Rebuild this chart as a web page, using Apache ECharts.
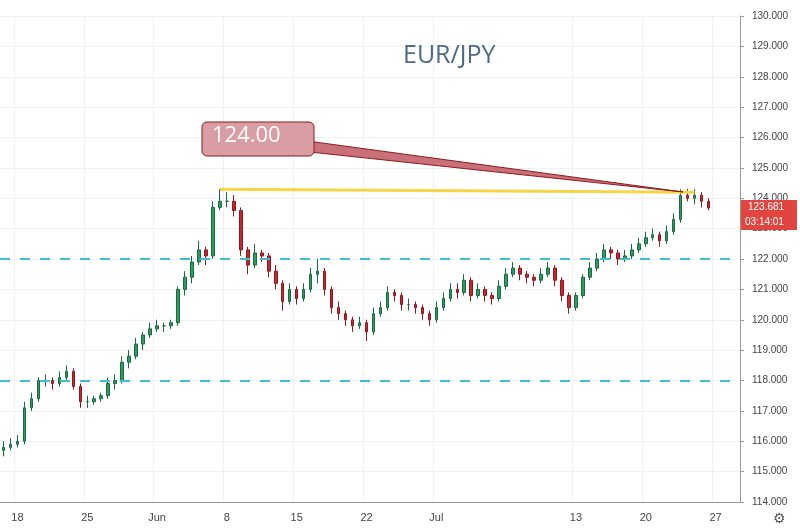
<!DOCTYPE html>
<html><head><meta charset="utf-8">
<script src="https://cdn.jsdelivr.net/npm/echarts@6/dist/echarts.min.js"></script>
<style>html,body{margin:0;padding:0;background:#fff}#c{width:800px;height:531px}</style>
</head><body><div id="c"></div>
<script>
// 12h candles, 15 May - 24 Jul, [open, close, low, high]
const candles = [
  [115.7,115.8,115.5,116.0],[115.8,115.9,115.7,116.1],[115.9,116.0,115.8,116.2],[116.0,117.1,115.9,117.3],
  [117.1,117.4,117.0,117.6],[117.4,118.0,117.3,118.1],[118.0,118.0,117.8,118.2],[118.0,117.9,117.7,118.1],
  [117.9,118.1,117.8,118.3],[118.1,118.3,118.0,118.5],[118.3,117.8,117.7,118.4],[117.8,117.3,117.1,117.9],
  [117.3,117.3,117.1,117.5],[117.3,117.4,117.2,117.5],[117.4,117.5,117.3,117.6],[117.5,117.9,117.4,118.1],
  [117.9,118.0,117.7,118.2],[118.0,118.6,117.9,118.8],[118.6,118.8,118.4,119.0],[118.8,119.2,118.7,119.4],
  [119.2,119.5,119.0,119.6],[119.5,119.7,119.4,119.9],[119.7,119.8,119.6,120.0],[119.8,119.8,119.6,119.9],
  [119.8,119.9,119.7,120.0],[119.9,121.0,119.8,121.1],[121.0,121.4,120.8,121.6],[121.4,121.9,121.2,122.1],
  [121.9,122.3,121.8,122.6],[122.3,122.1,121.8,122.4],[122.1,123.7,122.0,123.9],[123.7,123.9,123.6,124.3],
  [123.9,123.9,123.7,124.2],[123.9,123.6,123.4,124.1],[123.6,122.3,122.1,123.7],[122.3,121.8,121.5,122.4],
  [121.8,122.2,121.7,122.5],[122.2,122.1,121.9,122.3],[122.1,121.6,121.4,122.2],[121.6,121.2,121.0,121.8],
  [121.2,120.6,120.3,121.3],[120.6,121.0,120.5,121.2],[121.0,120.7,120.5,121.1],[120.7,121.0,120.6,121.2],
  [121.0,121.5,120.9,121.7],[121.5,121.6,121.2,122.0],[121.6,121.0,120.8,121.7],[121.0,120.4,120.2,121.1],
  [120.4,120.2,120.0,120.6],[120.2,120.0,119.8,120.3],[120.0,119.8,119.6,120.1],[119.8,119.9,119.7,120.1],
  [119.9,119.6,119.3,120.0],[119.6,120.2,119.5,120.4],[120.2,120.4,120.1,120.6],[120.4,120.9,120.3,121.1],
  [120.9,120.8,120.6,121.0],[120.8,120.5,120.3,120.9],[120.5,120.5,120.3,120.7],[120.5,120.4,120.2,120.6],
  [120.4,120.2,120.0,120.5],[120.2,120.0,119.8,120.3],[120.0,120.4,119.9,120.6],[120.4,120.7,120.3,120.9],
  [120.7,121.0,120.6,121.2],[121.0,120.9,120.7,121.2],[120.9,121.3,120.8,121.5],[121.3,120.8,120.6,121.4],
  [120.8,121.0,120.7,121.2],[121.0,120.8,120.6,121.1],[120.8,120.7,120.5,120.9],[120.7,121.1,120.6,121.3],
  [121.1,121.5,121.0,121.7],[121.5,121.7,121.4,121.9],[121.7,121.5,121.3,121.8],[121.5,121.4,121.2,121.6],
  [121.4,121.3,121.1,121.5],[121.3,121.5,121.2,121.7],[121.5,121.7,121.4,121.9],[121.7,121.3,121.1,121.8],
  [121.3,120.8,120.6,121.4],[120.8,120.4,120.2,120.9],[120.4,120.8,120.3,120.9],[120.8,121.4,120.7,121.5],
  [121.4,121.7,121.3,121.9],[121.7,122.0,121.6,122.2],[122.0,122.3,121.9,122.5],[122.3,122.2,122.0,122.4],
  [122.2,122.0,121.8,122.3],[122.0,122.1,121.9,122.3],[122.1,122.3,122.0,122.5],[122.3,122.5,122.2,122.7],
  [122.5,122.7,122.4,122.9],[122.7,122.8,122.6,123.0],[122.8,122.6,122.4,122.9],[122.6,122.9,122.5,123.1],
  [122.9,123.3,122.8,123.5],[123.3,124.1,123.2,124.3],[124.1,124.0,123.9,124.3],[124.0,124.1,123.8,124.3],
  [124.1,123.9,123.7,124.2],[123.9,123.68,123.6,124.0]
];
const padCount = 4;
const tickLabels = {2:'18',12:'25',22:'Jun',32:'8',42:'15',52:'22',62:'Jul',82:'13',92:'20',102:'27'};
const levels = [122, 118];
const lastPrice = '123.681';
const countdown = '03:14:01';

const cats = [];
for (let i = 0; i < candles.length + padCount; i++) cats.push(tickLabels[i] || '');
const isTick = (i) => tickLabels[i] !== undefined;

const chart = echarts.init(document.getElementById('c'));
chart.setOption({
  animation: false,
  title: {text: 'EUR/JPY', left: 398, top: 38, textStyle: {color: '#4e6b85', fontSize: 25, fontWeight: 'normal', fontFamily: 'Open Sans'}},
  grid: {left: 0, right: 60, top: 16, bottom: 29},
  xAxis: {
    type: 'category', data: cats,
    axisLine: {lineStyle: {color: '#999'}},
    axisTick: {show: false},
    axisLabel: {interval: (i) => isTick(i), color: '#444', fontSize: 11, margin: 10},
    splitLine: {show: true, interval: (i) => isTick(i), lineStyle: {color: '#eef0f3'}}
  },
  yAxis: {
    type: 'value', position: 'right', min: 114, max: 130, interval: 1, scale: true,
    axisLine: {show: true, lineStyle: {color: '#999'}},
    axisTick: {show: true, length: 4, lineStyle: {color: '#999'}},
    axisLabel: {color: '#444', fontSize: 10, margin: 12, formatter: (v) => v.toFixed(3)},
    splitLine: {lineStyle: {color: '#eef0f3'}}
  },
  series: [{
    type: 'candlestick', data: candles, barWidth: 3,
    itemStyle: {color: '#2a9d5f', color0: '#c8262e', borderColor: '#1c6b40', borderColor0: '#8e1a20'},
    markLine: {
      symbol: 'none', silent: true, label: {show: false},
      data: levels.map(v => ({yAxis: v, lineStyle: {color: '#3fbfd0', type: [10, 10], width: 2}})).concat([
        [{coord: [31, 124.3], lineStyle: {color: '#f5d547', width: 3, type: 'solid'}}, {coord: [99, 124.2]}]
      ])
    }
  }],
  graphic: [
    {type: 'polygon', z: 100, shape: {points: [[300, 140], [683, 192], [310, 152]]}, style: {fill: '#c9707a', stroke: '#8b1a1a', lineWidth: 1}},
    {type: 'rect', z: 101, shape: {x: 202, y: 122, width: 112, height: 34, r: 5}, style: {fill: '#d89ea4', stroke: '#8b1a1a', lineWidth: 1}},
    {type: 'text', z: 102, left: 212, top: 125, style: {text: '124.00', fill: '#fff', fontSize: 22, fontFamily: 'Open Sans'}},
    {type: 'rect', z: 101, shape: {x: 741, y: 200, width: 56, height: 15}, style: {fill: '#e0453f'}},
    {type: 'text', z: 102, left: 748, top: 202, style: {text: lastPrice, fill: '#fff', fontSize: 10}},
    {type: 'rect', z: 101, shape: {x: 741, y: 215, width: 56, height: 15}, style: {fill: '#e0453f'}},
    {type: 'text', z: 102, left: 745, top: 217, style: {text: countdown, fill: '#fff', fontSize: 10}},
    {type: 'text', z: 102, left: 773, top: 512, style: {text: '⚙', fill: '#555', fontSize: 14}}
  ]
});
</script></body></html>
